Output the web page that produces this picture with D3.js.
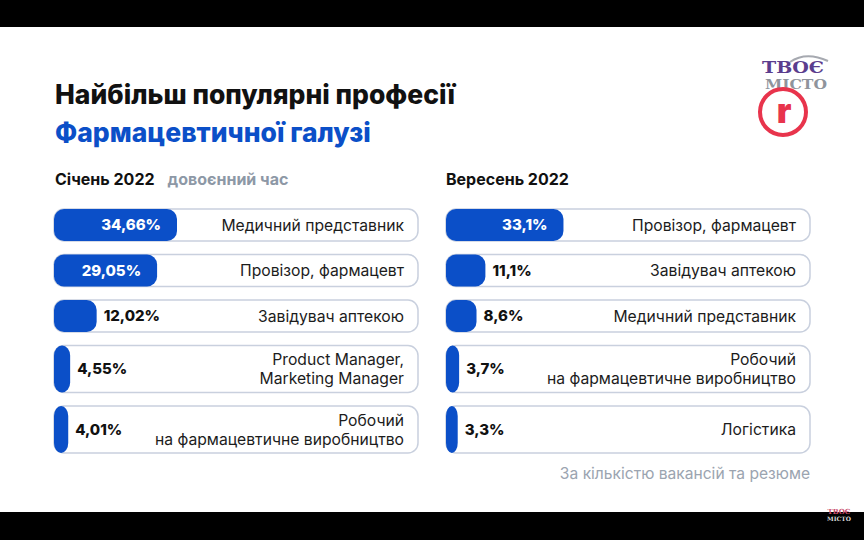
<!DOCTYPE html>
<html>
<head>
<meta charset="utf-8">
<script src="https://cdn.jsdelivr.net/npm/d3@7"></script>
<style>
  body { margin: 0; background: #000; }
  svg text { font-family: Inter, "Noto Sans", sans-serif; }
  svg text.serif { font-family: "DejaVu Serif", serif; }
</style>
</head>
<body>
<script>
// data
const janLabels = ["Медичний представник", "Провізор, фармацевт", "Завідувач аптекою",
                   "Product Manager,\nMarketing Manager", "Робочий\nна фармацевтичне виробництво"];
const janValues = [34.66, 29.05, 12.02, 4.55, 4.01];
const sepLabels = ["Провізор, фармацевт", "Завідувач аптекою", "Медичний представник",
                   "Робочий\nна фармацевтичне виробництво", "Логістика"];
const sepValues = [33.1, 11.1, 8.6, 3.7, 3.3];

const width = 864, height = 540;
const blue = "#0b4fc8";

const svg = d3.select("body").append("svg")
    .attr("width", width)
    .attr("height", height);

// slide background between the black bars
svg.append("rect").attr("x", 0).attr("y", 0).attr("width", width).attr("height", height).attr("fill", "#000");
svg.append("rect").attr("x", 0).attr("y", 27).attr("width", width).attr("height", 485).attr("fill", "#fff");

// titles
svg.append("text").attr("x", 55).attr("y", 104)
    .attr("font-size", 26.5).attr("font-weight", 800).attr("fill", "#111")
    .text("Найбільш популярні професії");
svg.append("text").attr("x", 55).attr("y", 142)
    .attr("font-size", 26.5).attr("font-weight", 800).attr("fill", blue)
    .text("Фармацевтичної галузі");

let sub = svg.append("text").attr("x", 55).attr("y", 185)
    .attr("font-size", 16).attr("font-weight", 700).attr("fill", "#111");
sub.append("tspan").text("Січень 2022");
sub.append("tspan").attr("dx", 13).attr("font-size", 16).attr("fill", "#8d98a6").text("довоєнний час");

svg.append("text").attr("x", 446).attr("y", 185)
    .attr("font-size", 16).attr("font-weight", 700).attr("fill", "#111")
    .text("Вересень 2022");

svg.append("text").attr("x", 810).attr("y", 479)
    .attr("text-anchor", "end")
    .attr("font-size", 15.6).attr("fill", "#9ba4b0")
    .text("За кількістю вакансій та резюме");

// row layout: height from the number of label lines in either panel
const nLines = janLabels.map(function(l, i) {
    return Math.max(l.split("\n").length, sepLabels[i].split("\n").length);
});
const rowTop = [];
let yy = 209;
nLines.forEach(function(n) {
    rowTop.push(yy);
    yy += (n > 1 ? 47 : 32) + 13.5;
});
const rowH = nLines.map(function(n) { return n > 1 ? 47 : 32; });

const panelW = 364;
const x = d3.scaleLinear().domain([0, 34.66]).range([0, 123]);

function fmt(v) { return String(v).replace(".", ","); }

function drawPanel(x0, labels, values) {
    const data = values.map(function(v, i) { return {value: v, label: labels[i], i: i}; });

    const rows = svg.append("g")
        .attr("transform", "translate(" + x0 + ",0)")
        .selectAll(".row")
        .data(data)
        .enter()
        .append("g")
        .classed("row", true)
        .attr("transform", function(d) { return "translate(0," + rowTop[d.i] + ")"; });

    rows.append("rect")
        .attr("x", 0).attr("y", 0)
        .attr("width", panelW)
        .attr("height", function(d) { return rowH[d.i]; })
        .attr("rx", 10)
        .attr("fill", "#fff")
        .attr("stroke", "#c9d0de")
        .attr("stroke-width", 1.5);

    rows.append("rect")
        .attr("x", 0).attr("y", 0)
        .attr("width", function(d) { return x(d.value); })
        .attr("height", function(d) { return rowH[d.i]; })
        .attr("rx", 10)
        .attr("fill", blue);

    // percentage: inside for big bars, after the bar for small ones
    rows.append("text")
        .attr("x", function(d) { return d.value > 20 ? x(d.value) - 16 : x(d.value) + 7; })
        .attr("y", function(d) { return rowH[d.i] / 2; })
        .attr("dy", "0.36em")
        .attr("text-anchor", function(d) { return d.value > 20 ? "end" : "start"; })
        .attr("font-size", 15)
        .attr("font-weight", 800)
        .attr("fill", function(d) { return d.value > 20 ? "#fff" : "#111"; })
        .text(function(d) { return fmt(d.value) + "%"; });

    rows.each(function(d) {
        const lines = d.label.split("\n");
        const t = d3.select(this).append("text")
            .attr("text-anchor", "end")
            .attr("font-size", 15.7)
            .attr("fill", "#1c1c1c");
        lines.forEach(function(line, k) {
            t.append("tspan")
                .attr("x", panelW - 14)
                .attr("y", rowH[d.i] / 2 + (k - (lines.length - 1) / 2) * 19)
                .attr("dy", "0.36em")
                .text(line);
        });
    });
}

drawPanel(54, janLabels, janValues);
drawPanel(446, sepLabels, sepValues);

// logo
const logo = svg.append("g");
logo.append("path")
    .attr("d", "M790,62 Q806,51 828,61")
    .attr("fill", "none").attr("stroke", "#a6a9b0").attr("stroke-width", 2);
logo.append("text").classed("serif", true).attr("x", 762).attr("y", 73)
    .attr("textLength", 62).attr("lengthAdjust", "spacingAndGlyphs")
    .attr("font-size", 16).attr("font-weight", 700)
    .attr("fill", "#5b3d8e").text("ТВОЄ");
logo.append("text").classed("serif", true).attr("x", 765).attr("y", 89)
    .attr("textLength", 62).attr("lengthAdjust", "spacingAndGlyphs")
    .attr("font-size", 13).attr("font-weight", 700)
    .attr("fill", "#8f949c").text("МІСТО");
logo.append("circle").attr("cx", 783).attr("cy", 112).attr("r", 23)
    .attr("fill", "none").attr("stroke", "#e8344c").attr("stroke-width", 4);
logo.append("text").attr("x", 784).attr("y", 112).attr("dy", "0.33em").attr("text-anchor", "middle")
    .attr("font-size", 34).attr("font-weight", 900).attr("fill", "#e8344c").text("r");

// small watermark
svg.append("text").classed("serif", true).attr("x", 839).attr("y", 514).attr("text-anchor", "middle")
    .attr("font-size", 7).attr("font-weight", 700)
    .attr("fill", "#c94b6a").text("ТВОЄ");
svg.append("text").classed("serif", true).attr("x", 839).attr("y", 521).attr("text-anchor", "middle")
    .attr("font-size", 6).attr("font-weight", 700)
    .attr("fill", "#ddd").text("МІСТО");
</script>
</body>
</html>
